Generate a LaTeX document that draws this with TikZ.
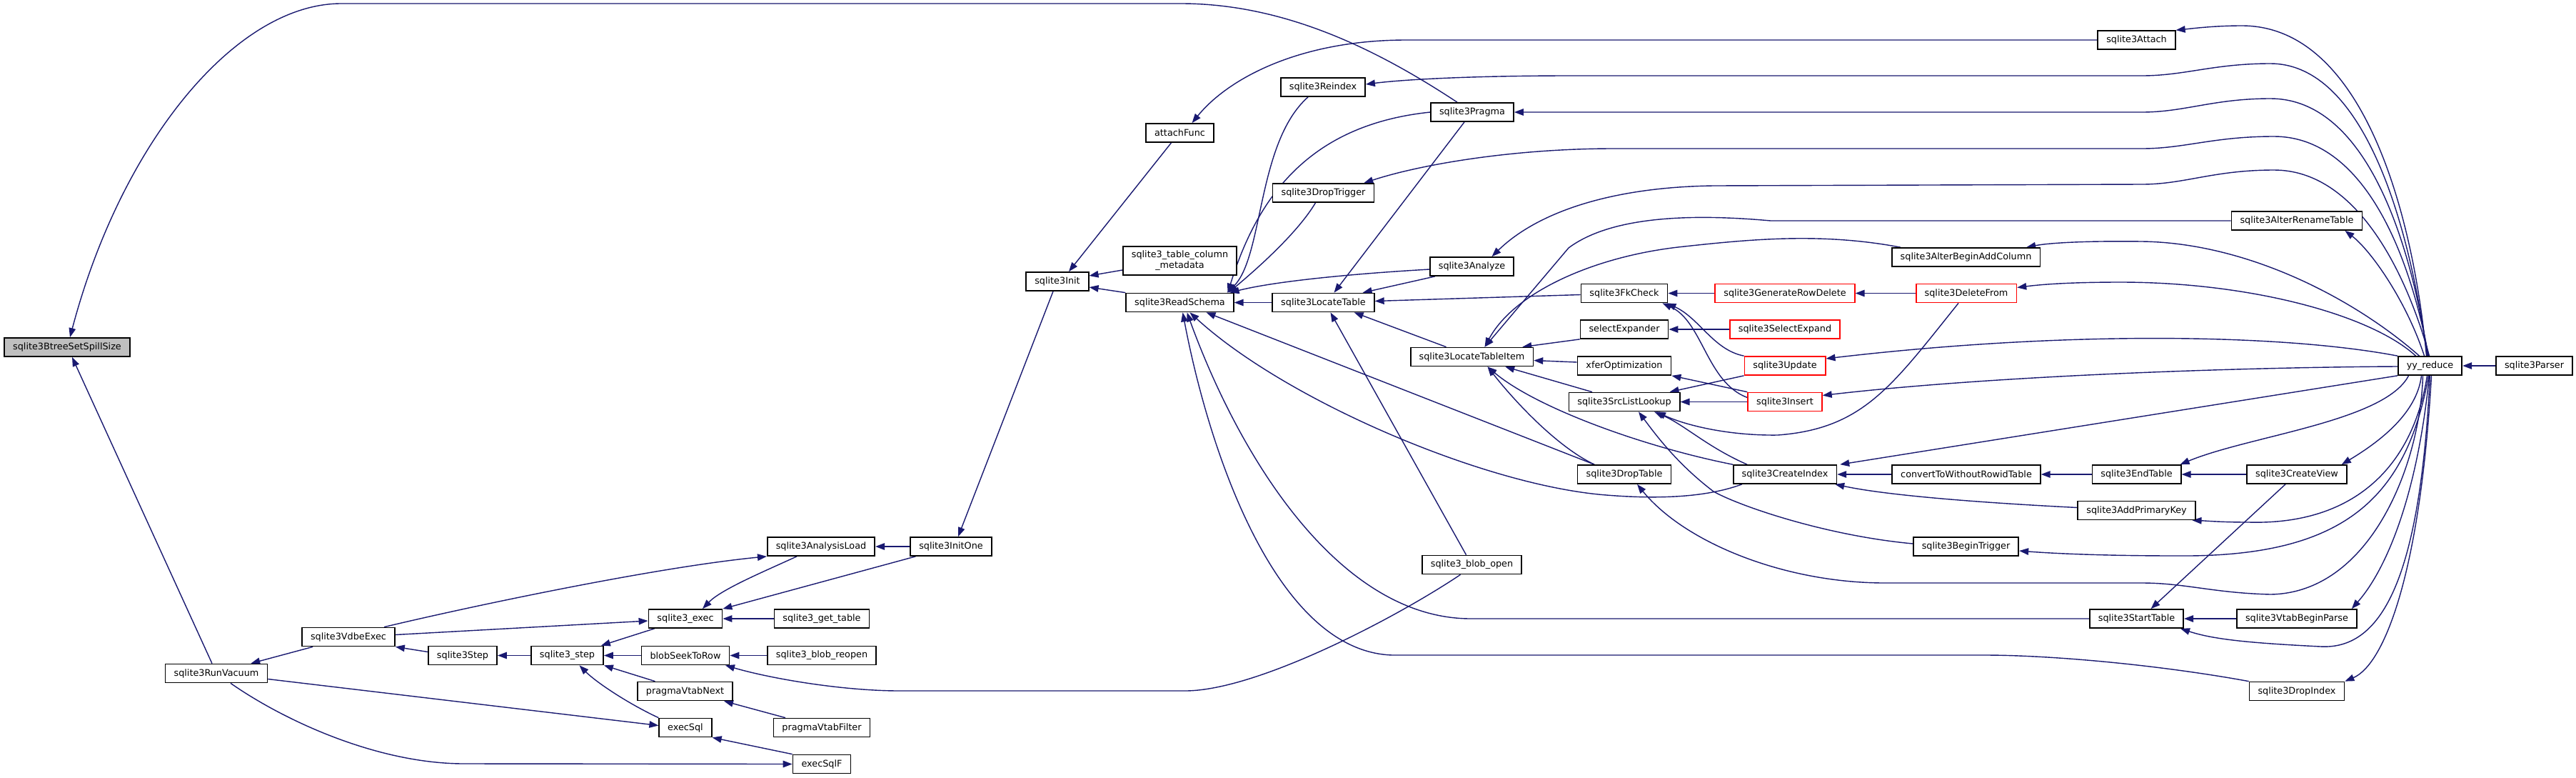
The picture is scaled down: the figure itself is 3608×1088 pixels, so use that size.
\documentclass[tikz,border=0pt]{standalone}
\usepackage{fontspec}
\setmainfont{DejaVu Sans}
\usetikzlibrary{arrows.meta,backgrounds}
\definecolor{edgeblue}{HTML}{191970}

\begin{document}
\begin{tikzpicture}[x=1pt,y=-1pt,
  fn/.style={draw=black,fill=white,line width=1.7pt,inner xsep=12pt,inner ysep=0pt,
    minimum height=26pt,font=\fontsize{12.8}{15}\selectfont},
  rootfn/.style={fn,fill=black!25},
  redfn/.style={fn,draw=red},
  call/.style={draw=edgeblue,line width=1.4pt,-{Triangle[length=13pt,width=9.5pt]}}]
\useasboundingbox (0,0) rectangle (3608,1088);
% callers, left to right
\node[rootfn] (spill) at (94,486) {sqlite3BtreeSetSpillSize};
\node[fn] (vacuum) at (303,942.5) {sqlite3RunVacuum};
\node[fn] (vdbe) at (488,891.5) {sqlite3VdbeExec};
\node[fn] (vstep) at (648,917.5) {sqlite3Step};
\node[fn] (step) at (794.5,917.5) {sqlite3\_step};
\node[fn] (exec) at (960,866) {sqlite3\_exec};
\node[fn] (seek) at (960,917.5) {blobSeekToRow};
\node[fn] (vnext) at (959.5,967.5) {pragmaVtabNext};
\node[fn] (execsql) at (960,1018.5) {execSql};
\node[fn] (aload) at (1150,765) {sqlite3AnalysisLoad};
\node[fn] (gettable) at (1151,866) {sqlite3\_get\_table};
\node[fn] (reopen) at (1151,917.5) {sqlite3\_blob\_reopen};
\node[fn] (vfilter) at (1151,1018.5) {pragmaVtabFilter};
\node[fn] (execsqlf) at (1151,1069.5) {execSqlF};
\node[fn] (initone) at (1332,765) {sqlite3InitOne};
\node[fn] (init) at (1481,394) {sqlite3Init};
\node[fn] (attachf) at (1652.5,186) {attachFunc};
\node[fn,align=center,minimum height=40pt] (meta) at (1652.5,365) {sqlite3\_table\_column\\\_metadata};
\node[fn] (readschema) at (1652.5,423.5) {sqlite3ReadSchema};
\node[fn] (reindex) at (1853,122) {sqlite3Reindex};
\node[fn] (droptrig) at (1853.5,270) {sqlite3DropTrigger};
\node[fn] (locate) at (1853.5,423.5) {sqlite3LocateTable};
\node[fn] (pragma) at (2062,157) {sqlite3Pragma};
\node[fn] (analyze) at (2061.5,373) {sqlite3Analyze};
\node[fn] (lti) at (2061.5,499.5) {sqlite3LocateTableItem};
\node[fn] (blobopen) at (2061.5,790.5) {sqlite3\_blob\_open};
\node[fn] (fkcheck) at (2275,410.5) {sqlite3FkCheck};
\node[fn] (sexpander) at (2275,461) {selectExpander};
\node[fn] (xfer) at (2275,512) {xferOptimization};
\node[fn] (srclist) at (2275,562.5) {sqlite3SrcListLookup};
\node[fn] (droptable) at (2275,664) {sqlite3DropTable};
\node[redfn] (rowdel) at (2500,410.5) {sqlite3GenerateRowDelete};
\node[redfn] (sexpand) at (2500,461) {sqlite3SelectExpand};
\node[redfn] (update) at (2500,512) {sqlite3Update};
\node[redfn] (insert) at (2500,562.5) {sqlite3Insert};
\node[fn] (createidx) at (2500,664) {sqlite3CreateIndex};
\node[fn] (addcol) at (2753.5,360) {sqlite3AlterBeginAddColumn};
\node[redfn] (delfrom) at (2754,410.5) {sqlite3DeleteFrom};
\node[fn] (convert) at (2754,664) {convertToWithoutRowidTable};
\node[fn] (trigger) at (2753.5,765) {sqlite3BeginTrigger};
\node[fn] (attach) at (2992.5,56) {sqlite3Attach};
\node[fn] (endtable) at (2992.5,664) {sqlite3EndTable};
\node[fn] (addpk) at (2992.5,714.5) {sqlite3AddPrimaryKey};
\node[fn] (starttable) at (2992.5,866) {sqlite3StartTable};
\node[fn] (rename) at (3217,309) {sqlite3AlterRenameTable};
\node[fn] (createview) at (3217,664) {sqlite3CreateView};
\node[fn] (vtabparse) at (3217,866) {sqlite3VtabBeginParse};
\node[fn] (dropindex) at (3217,967.5) {sqlite3DropIndex};
\node[fn] (yy) at (3403.5,512) {yy\_reduce};
\node[fn] (parser) at (3549.5,512) {sqlite3Parser};
\begin{scope}[on background layer]
\fill[white] (0,0) rectangle (3608,1088);
% root callers
\draw[call] ([xshift=-21pt]pragma.north) .. controls (1930,70) and (1800,5) .. (1654,5) -- (478,5) .. controls (330,5) and (170,200) .. ([xshift=4pt]spill.north);
\draw[call] ([xshift=-6pt]vacuum.north) -- ([xshift=7pt]spill.south);
% vacuum and vdbe
\draw[call] ([xshift=16pt]vdbe.south west) -- ([xshift=-24pt]vacuum.north east);
\draw[call] ([yshift=-8pt]vacuum.east) -- ([yshift=3pt]execsql.west);
\draw[call] ([xshift=20pt]vacuum.south) .. controls (400,1010) and (530,1069) .. (650,1069) -- (execsqlf.west);
\draw[call] (execsqlf.north west) -- (execsql.south east);
\draw[call] (execsql.north west) .. controls (880,985) and (835,955) .. ([xshift=17pt]step.south);
\draw[call] ([xshift=-42pt]vnext.north) -- (step.south east);
\draw[call] (seek.west) -- (step.east);
\draw[call] ([xshift=9pt]exec.south west) -- ([xshift=-4pt]step.north east);
\draw[call] (step.west) -- (vstep.east);
\draw[call] ([yshift=5pt]vstep.west) -- (vdbe.south east);
\draw[call] ([yshift=3pt]vdbe.east) -- ([yshift=-3pt]exec.west);
\draw[call] ([xshift=50pt]vdbe.north) .. controls (658,849) and (918,794) .. (aload.south west);
\draw[call] ([xshift=-34pt]aload.south) .. controls (1070,800) and (1010,825) .. ([xshift=24pt]exec.north);
\draw[call] ([xshift=8pt]initone.south west) -- (exec.north east);
\draw[call] (initone.west) -- (aload.east);
\draw[call] (gettable.west) -- (exec.east);
\draw[call] (reopen.west) -- (seek.east);
\draw[call] ([xshift=-51pt]vfilter.north) -- ([xshift=-13pt]vnext.south east);
\draw[call] ([xshift=-16pt]blobopen.south) .. controls (1955,865) and (1760,967) .. (1660,967) -- (1260,967) .. controls (1180,967) and (1080,950) .. ([xshift=56pt]seek.south);
% schema loading
\draw[call] ([xshift=-6pt]init.south) -- ([xshift=10pt]initone.north);
\draw[call] ([xshift=-12pt]attachf.south) -- ([xshift=16pt]init.north);
\draw[call] ([yshift=-13pt]meta.west) -- ([yshift=8pt]init.east);
\draw[call] (readschema.north west) -- ([yshift=-8pt]init.east);
\draw[call] (attach.west) -- (1970,56) .. controls (1820,56) and (1720,110) .. ([xshift=17pt]attachf.north);
\draw[call] ([xshift=-21pt]reindex.south) .. controls (1760,200) and (1770,360) .. ([xshift=-10pt]readschema.north east);
\draw[call] (pragma.west) .. controls (1830,175) and (1760,280) .. ([xshift=-9pt]readschema.north east);
\draw[call] ([xshift=-11pt]droptrig.south) .. controls (1815,330) and (1750,385) .. ([xshift=-8pt]readschema.north east);
\draw[call] ([yshift=-4pt]analyze.west) .. controls (1880,384) and (1780,395) .. ([xshift=-6pt]readschema.north east);
\draw[call] (locate.west) -- (readschema.east);
\draw[call] (dropindex.north west) .. controls (3020,930) and (2870,917) .. (2780,917) -- (1950,917) .. controls (1790,912) and (1695,640) .. ([xshift=4pt]readschema.south);
\draw[call] (starttable.west) -- (2060,866) .. controls (1880,866) and (1740,650) .. ([xshift=10pt]readschema.south);
\draw[call] ([xshift=13pt]createidx.south west) .. controls (2380,700) and (2300,697) .. (2250,693) .. controls (2080,680) and (1800,560) .. ([xshift=14pt]readschema.south);
\draw[call] ([xshift=-42pt]droptable.north) -- ([xshift=37pt]readschema.south);
% locate table
\draw[call] ([xshift=-11pt]pragma.south) -- ([xshift=15pt]locate.north);
\draw[call] ([xshift=8pt]analyze.south west) -- ([xshift=-17pt]locate.north east);
\draw[call] ([yshift=-2pt]fkcheck.west) -- ([yshift=2pt]locate.east);
\draw[call] ([xshift=-36pt]lti.north) -- ([xshift=-29pt]locate.south east);
\draw[call] ([xshift=-8pt]blobopen.north) -- ([xshift=10pt]locate.south);
% locate table item
\draw[call] (sexpander.south west) -- ([xshift=-16pt]lti.north east);
\draw[call] ([yshift=5pt]xfer.west) -- ([yshift=-5pt]lti.east);
\draw[call] ([xshift=-45pt]srclist.north) -- ([xshift=-40pt]lti.south east);
\draw[call] ([xshift=-42pt]droptable.north) .. controls (2180,625) and (2120,560) .. ([xshift=22pt]lti.south);
\draw[call] (createidx.north west) .. controls (2300,625) and (2150,570) .. ([xshift=22pt]lti.south);
\draw[call] (rename.west) -- (2480,309) .. controls (2380,300) and (2260,300) .. (2197,347) -- ([xshift=18pt]lti.north);
\draw[call] ([xshift=13pt]addcol.north west) .. controls (2550,325) and (2450,335) .. (2350,346) .. controls (2230,360) and (2120,410) .. ([xshift=18pt]lti.north);
% fk check, select expander, src list
\draw[call] (rowdel.west) -- (fkcheck.east);
\draw[call] (sexpand.west) -- (sexpander.east);
\draw[call] (update.north west) .. controls (2400,490) and (2380,445) .. ([xshift=-2pt]fkcheck.south east);
\draw[call] ([yshift=6pt]insert.west) .. controls (2390,535) and (2385,450) .. ([xshift=-8pt]fkcheck.south east);
\draw[call] (insert.north west) -- (xfer.south east);
\draw[call] (update.south west) -- ([xshift=-15pt]srclist.north east);
\draw[call] (insert.west) -- (srclist.east);
\draw[call] ([xshift=-11pt]delfrom.south) .. controls (2650,540) and (2610,600) .. (2490,609) .. controls (2420,610) and (2360,595) .. ([xshift=45pt]srclist.south);
\draw[call] ([xshift=-53pt]createidx.north) .. controls (2390,625) and (2360,595) .. ([xshift=42pt]srclist.south);
\draw[call] ([yshift=4pt]trigger.west) .. controls (2560,750) and (2440,710) .. (2400,688) .. controls (2350,650) and (2320,610) .. ([xshift=20pt]srclist.south);
\draw[call] (delfrom.west) -- (rowdel.east);
% create index chain
\draw[call] (convert.west) -- (createidx.east);
\draw[call] (endtable.west) -- (convert.east);
\draw[call] (createview.west) -- (endtable.east);
\draw[call] ([yshift=4pt]addpk.west) .. controls (2800,705) and (2650,695) .. ([xshift=-3pt]createidx.south east);
\draw[call] ([xshift=-16pt]createview.south) -- ([xshift=20pt]starttable.north);
\draw[call] (vtabparse.west) -- (starttable.east);
% parser and yy_reduce fan
\draw[call] (parser.west) -- (yy.east);
\draw[call] ([xshift=-5pt]yy.north) .. controls (3380,300) and (3310,36) .. (3140,36) .. controls (3100,36) and (3070,40) .. (attach.north east);
\draw[call] ([xshift=-4pt]yy.north) .. controls (3370,280) and (3300,89) .. (3180,89) .. controls (3100,89) and (3060,106) .. (3000,106) -- (2200,106) .. controls (2050,106) and (1960,112) .. ([yshift=4pt]reindex.east);
\draw[call] ([xshift=-3pt]yy.north) .. controls (3370,300) and (3300,138) .. (3180,138) .. controls (3100,138) and (3060,157) .. (3000,157) -- (pragma.east);
\draw[call] ([xshift=-2pt]yy.north) .. controls (3370,330) and (3300,191) .. (3185,191) .. controls (3100,191) and (3060,208) .. (3000,208) -- (2260,208) .. controls (2120,208) and (1990,230) .. ([xshift=-15pt]droptrig.north east);
\draw[call] ([xshift=-1pt]yy.north) .. controls (3370,380) and (3300,238) .. (3185,238) .. controls (3100,238) and (3060,258) .. (3000,258) -- (2400,260) .. controls (2250,262) and (2150,300) .. ([xshift=28pt]analyze.north);
\draw[call] ([xshift=-8pt]yy.north) .. controls (3370,420) and (3320,350) .. ([xshift=-25pt]rename.south east);
\draw[call] ([xshift=-15pt]yy.north) .. controls (3300,420) and (3150,340) .. (3000,338) .. controls (2920,337) and (2870,340) .. ([xshift=-20pt]addcol.north east);
\draw[call] ([xshift=-20pt]yy.north) .. controls (3320,440) and (3150,395) .. (2970,395) .. controls (2900,395) and (2860,398) .. ([yshift=8pt]delfrom.east);
\draw[call] (yy.north west) .. controls (3200,468) and (2900,462) .. ([yshift=10pt]update.east);
\draw[call] ([yshift=-1pt]yy.west) .. controls (3150,514) and (2800,525) .. ([yshift=9pt]insert.east);
\draw[call] (yy.south west) -- ([xshift=4pt]createidx.north east);
\draw[call] ([xshift=-30pt]yy.south) .. controls (3340,590) and (3150,610) .. ([xshift=-2pt]endtable.north east);
\draw[call] ([xshift=-12pt]yy.south) .. controls (3385,580) and (3330,620) .. ([xshift=-8pt]createview.north east);
\draw[call] ([xshift=-4pt]yy.south) .. controls (3380,650) and (3300,735) .. (3150,731) .. controls (3110,731) and (3090,729) .. ([xshift=-5pt]addpk.south east);
\draw[call] ([xshift=-2pt]yy.south) .. controls (3370,700) and (3280,780) .. (3050,778) .. controls (2950,778) and (2880,775) .. ([yshift=-6pt]trigger.east);
\draw[call] ([xshift=-10pt]yy.south) .. controls (3390,650) and (3320,830) .. (3180,832) .. controls (3100,830) and (3060,816) .. (3000,816) -- (2640,816) .. controls (2500,816) and (2360,760) .. ([xshift=18pt]droptable.south);
\draw[call] ([xshift=-1pt]yy.south) .. controls (3385,700) and (3340,800) .. ([xshift=-8pt]vtabparse.north east);
\draw[call] (yy.south) .. controls (3390,800) and (3340,910) .. (3250,905) .. controls (3150,900) and (3100,895) .. ([xshift=-5pt]starttable.south east);
\draw[call] ([xshift=2pt]yy.south) .. controls (3390,800) and (3340,930) .. (dropindex.north east);
\end{scope}
\end{tikzpicture}
\end{document}
